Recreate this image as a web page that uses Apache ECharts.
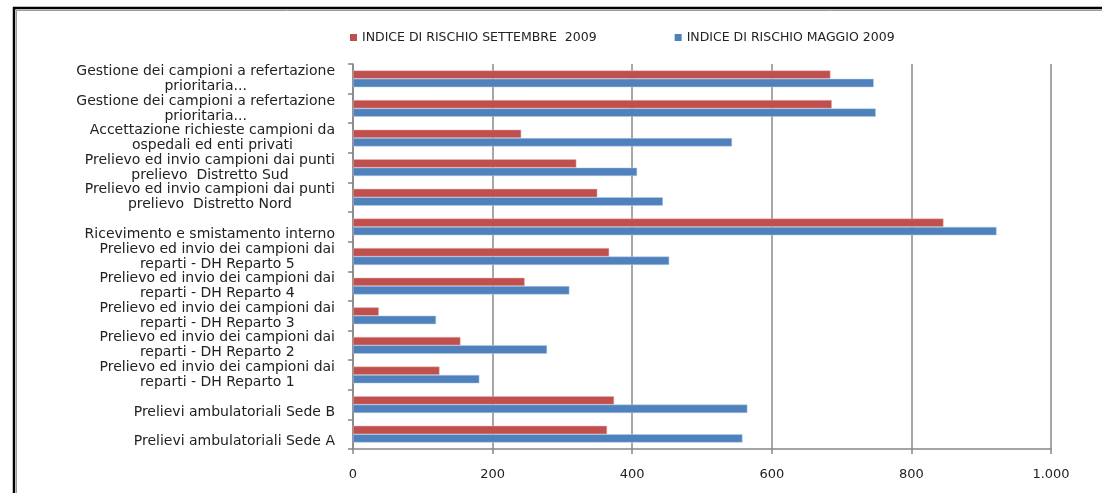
<!DOCTYPE html>
<html>
<head>
<meta charset="utf-8">
<script src="https://cdn.jsdelivr.net/npm/echarts@6/dist/echarts.min.js"></script>
<style>
  html, body { margin: 0; padding: 0; background: #fff; }
  #main { width: 1102px; height: 493px; }
</style>
</head>
<body>
<div id="main"></div>
<script>
// categories listed from bottom to top (category axis starts at the bottom)
var categories = [
    '\nPrelievi ambulatoriali Sede A',
    '\nPrelievi ambulatoriali Sede B',
    'Prelievo ed invio dei campioni dai\nreparti - DH Reparto 1',
    'Prelievo ed invio dei campioni dai\nreparti - DH Reparto 2',
    'Prelievo ed invio dei campioni dai\nreparti - DH Reparto 3',
    'Prelievo ed invio dei campioni dai\nreparti - DH Reparto 4',
    'Prelievo ed invio dei campioni dai\nreparti - DH Reparto 5',
    '\nRicevimento e smistamento interno',
    'Prelievo ed invio campioni dai punti\nprelievo  Distretto Nord',
    'Prelievo ed invio campioni dai punti\nprelievo  Distretto Sud',
    'Accettazione richieste campioni da\nospedali ed enti privati',
    'Gestione dei campioni a refertazione\nprioritaria...',
    'Gestione dei campioni a refertazione\nprioritaria...'
];
var settembre = [364, 374, 124, 154, 37, 246, 367, 846, 350, 320, 241, 686, 684];
var maggio = [558, 565, 181, 278, 119, 310, 453, 922, 444, 407, 543, 749, 746];
var xTicks = [0, 200, 400, 600, 800, 1000];
var xTickLabels = ['0', '200', '400', '600', '800', '1.000'];

var nameSet = 'INDICE DI RISCHIO SETTEMBRE  2009';
var nameMag = 'INDICE DI RISCHIO MAGGIO 2009';

var myChart = echarts.init(document.getElementById('main'));

myChart.setOption({
    animation: false,
    textStyle: { fontFamily: 'DejaVu Sans' },
    legend: {
        data: [nameSet, nameMag],
        top: 26,
        left: 345,
        itemWidth: 7,
        itemHeight: 7,
        itemGap: 78,
        icon: 'rect',
        itemStyle: { borderWidth: 0 },
        textStyle: { fontSize: 12.5, color: '#222', fontFamily: 'DejaVu Sans' }
    },
    grid: { left: 353, right: 51, top: 64, bottom: 44, containLabel: false },
    xAxis: {
        type: 'value',
        min: 0,
        max: 1000,
        interval: 200,
        axisLine: { show: true, lineStyle: { color: '#868686', width: 1.5 } },
        axisTick: { show: true, length: 5, lineStyle: { color: '#868686', width: 1.5 } },
        splitLine: { show: true, lineStyle: { color: '#8a8a8a', width: 1.5 } },
        axisLabel: {
            margin: 19,
            fontSize: 13,
            color: '#222',
            formatter: function (v) { return xTickLabels[xTicks.indexOf(v)]; }
        }
    },
    yAxis: {
        type: 'category',
        data: categories,
        axisLine: { show: true, lineStyle: { color: '#868686', width: 1.5 } },
        axisTick: { show: true, length: 5, lineStyle: { color: '#868686', width: 1.5 } },
        axisLabel: {
            interval: 0,
            margin: 18,
            align: 'right',
            formatter: function (v) {
                // each line centred inside the right-aligned block
                return v.split('\n').map(function (l) {
                    return '{c|' + (l === '' ? ' ' : l) + '}';
                }).join('\n');
            },
            rich: {
                c: { align: 'center', fontSize: 14, lineHeight: 15, color: '#222', fontFamily: 'DejaVu Sans' }
            }
        }
    },
    series: [
        {
            name: nameSet,
            type: 'bar',
            data: settembre,
            barWidth: 8.4,
            barGap: '0%',
            itemStyle: { color: '#C0504D', borderColor: '#e6b9b8', borderWidth: 0.5 }
        },
        {
            name: nameMag,
            type: 'bar',
            data: maggio,
            barWidth: 8.4,
            barGap: '0%',
            itemStyle: { color: '#4F81BD', borderColor: '#b9cde5', borderWidth: 0.5 }
        }
    ],
    graphic: [
        { type: 'line', shape: { x1: 13, y1: 8, x2: 1102, y2: 8 }, style: { stroke: '#000', lineWidth: 2.5 } },
        { type: 'line', shape: { x1: 16, y1: 10.5, x2: 1102, y2: 10.5 }, style: { stroke: '#9a9a9a', lineWidth: 1 } },
        { type: 'line', shape: { x1: 14, y1: 7, x2: 14, y2: 493 }, style: { stroke: '#000', lineWidth: 2.5 } },
        { type: 'line', shape: { x1: 16.5, y1: 10, x2: 16.5, y2: 493 }, style: { stroke: '#9a9a9a', lineWidth: 1 } }
    ]
});
</script>
</body>
</html>
